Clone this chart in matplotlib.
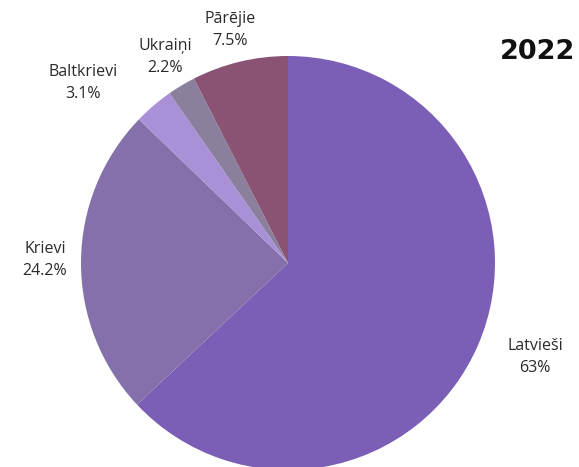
import matplotlib
matplotlib.use("Agg")
import matplotlib.pyplot as plt

categories = ["Latvieši", "Krievi", "Baltkrievi", "Ukraiņi", "Pārējie"]
values = [63, 24.2, 3.1, 2.2, 7.5]
pct_labels = ["63%", "24.2%", "3.1%", "2.2%", "7.5%"]
colors = ["#7B5EB5", "#8470AA", "#A891D6", "#8A7F9D", "#8A5273"]
label_pos = [(1.193, -0.454), (-1.174, 0.014), (-0.99, 0.87), (-0.594, 0.995), (-0.28, 1.126)]
title = "2022"

fig = plt.figure(figsize=(5.79, 4.67), dpi=100)
ax = fig.add_axes([81/579, -3/467, 414/579, 414/467])
ax.pie(values, colors=colors, startangle=90, counterclock=False,
       wedgeprops=dict(linewidth=0), radius=1)
ax.set_xlim(-1, 1)
ax.set_ylim(-1, 1)
ax.set_aspect("equal")
ax.axis("off")

for name, pct, (x, y) in zip(categories, pct_labels, label_pos):
    ax.text(x, y, f"{name}\n{pct}", ha="center", va="center", fontsize=11.5,
            family="Open Sans", color="#2a2a2a", linespacing=1.45, clip_on=False)

fig.text(0.929, 0.889, title, ha="center", va="center", fontsize=19.5,
         fontweight="bold", family="DejaVu Sans", color="#111111")

fig.savefig("out.png", dpi=100)
